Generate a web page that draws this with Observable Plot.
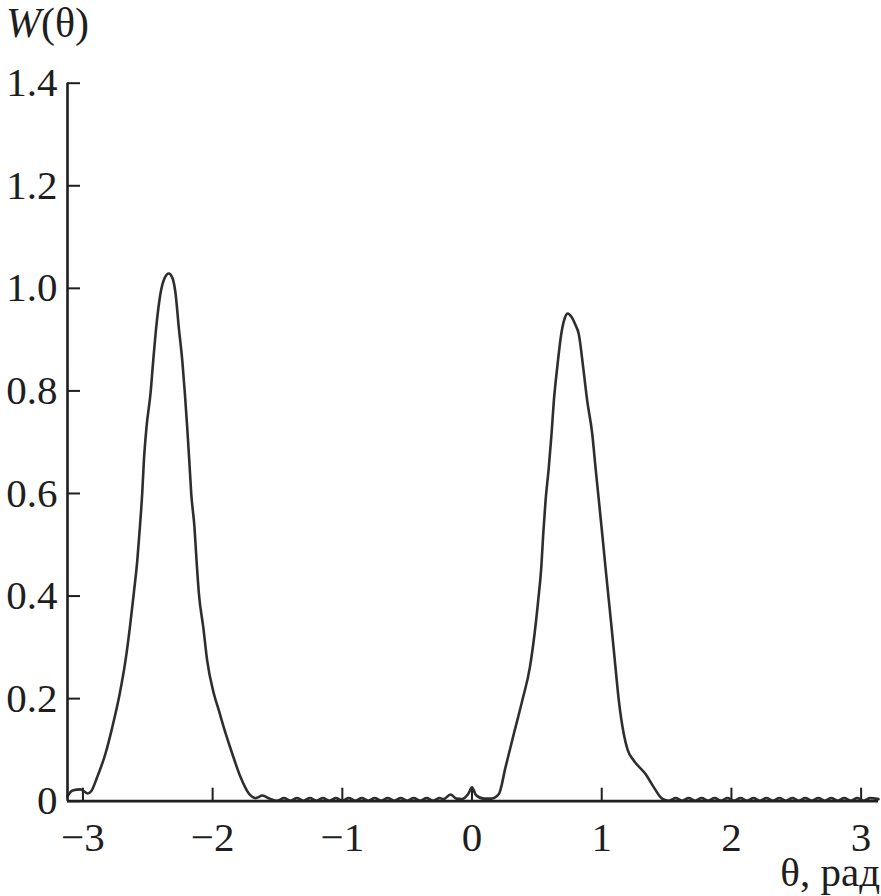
<!DOCTYPE html>
<html>
<head>
<meta charset="utf-8">
<script src="https://cdn.jsdelivr.net/npm/d3@7"></script>
<script src="https://cdn.jsdelivr.net/npm/@observablehq/plot@0.6"></script>
<style>
  html, body { margin: 0; padding: 0; background: #fff; }
</style>
</head>
<body>
<div id="chart"></div>
<script>
// θ values (rad)
const theta = [
  -3.119, -3.08, -3.02, -2.99, -2.965, -2.935, -2.89, -2.826, -2.774, -2.716,
  -2.672, -2.638, -2.608, -2.581, -2.561, -2.543, -2.530, -2.510, -2.479, -2.458,
  -2.435, -2.402, -2.370, -2.338, -2.310, -2.286, -2.261, -2.234, -2.214, -2.196,
  -2.180, -2.165, -2.140, -2.124, -2.106, -2.072, -2.042, -1.991, -1.952, -1.914,
  -1.849, -1.785, -1.721, -1.669, -1.615, -1.56,
  -1.50, -1.45, -1.40, -1.35, -1.30, -1.25, -1.20, -1.15, -1.10, -1.05,
  -1.00, -0.95, -0.90, -0.85, -0.80, -0.75, -0.70, -0.65, -0.60, -0.55,
  -0.50, -0.45, -0.40, -0.35, -0.30, -0.25,
  -0.22, -0.166, -0.12, -0.08, -0.03, 0.0, 0.03, 0.09, 0.15, 0.207,
  0.258, 0.322, 0.387, 0.446, 0.482, 0.510, 0.534, 0.549, 0.567, 0.592,
  0.613, 0.631, 0.657, 0.688, 0.715, 0.739, 0.765, 0.795, 0.823, 0.857,
  0.888, 0.927, 0.952, 0.978, 1.004, 1.029, 1.055, 1.081, 1.106, 1.132,
  1.170, 1.200, 1.248, 1.338, 1.402, 1.466,
  1.52, 1.57, 1.62, 1.67, 1.72, 1.77, 1.82, 1.87, 1.92, 1.97,
  2.02, 2.07, 2.12, 2.17, 2.22, 2.27, 2.32, 2.37, 2.42, 2.47,
  2.52, 2.57, 2.62, 2.67, 2.72, 2.77, 2.82, 2.87, 2.92, 2.97,
  3.02, 3.07, 3.134
];
// W(θ) values
const W = [
  0.010, 0.021, 0.023, 0.019, 0.015, 0.020, 0.047, 0.093, 0.144, 0.210,
  0.274, 0.339, 0.405, 0.469, 0.534, 0.600, 0.664, 0.729, 0.795, 0.859,
  0.924, 0.990, 1.020, 1.029, 1.020, 0.990, 0.924, 0.859, 0.795, 0.729,
  0.664, 0.600, 0.534, 0.469, 0.405, 0.339, 0.274, 0.210, 0.177, 0.144,
  0.093, 0.047, 0.015, 0.006, 0.011, 0.005,
  0.001, 0.006, 0.001, 0.006, 0.001, 0.006, 0.001, 0.006, 0.001, 0.006,
  0.001, 0.006, 0.001, 0.006, 0.001, 0.006, 0.001, 0.006, 0.001, 0.006,
  0.001, 0.006, 0.001, 0.006, 0.001, 0.006,
  0.004, 0.013, 0.005, 0.004, 0.014, 0.027, 0.012, 0.005, 0.005, 0.014,
  0.066, 0.131, 0.196, 0.261, 0.326, 0.391, 0.456, 0.521, 0.586, 0.651,
  0.716, 0.781, 0.846, 0.911, 0.942, 0.951, 0.945, 0.930, 0.911, 0.846,
  0.781, 0.716, 0.651, 0.586, 0.521, 0.456, 0.391, 0.326, 0.261, 0.196,
  0.131, 0.100, 0.079, 0.053, 0.027, 0.005,
  0.001, 0.006, 0.001, 0.006, 0.001, 0.006, 0.001, 0.006, 0.001, 0.006,
  0.001, 0.006, 0.001, 0.006, 0.001, 0.006, 0.001, 0.006, 0.001, 0.006,
  0.001, 0.006, 0.001, 0.006, 0.001, 0.006, 0.001, 0.006, 0.001, 0.006,
  0.001, 0.006, 0.004
];

const xTicks = [-3, -2, -1, 0, 1, 2, 3];
const xTickLabels = ["−3", "−2", "−1", "0", "1", "2", "3"];
const yTicks = [0, 0.2, 0.4, 0.6, 0.8, 1.0, 1.2, 1.4];
const yTickLabels = ["0", "0.2", "0.4", "0.6", "0.8", "1.0", "1.2", "1.4"];
const xDomain = [-3.119, 3.134];
const yDomain = [0, 1.4];

const data = theta.map((t, i) => ({t, w: W[i]}));
const serif = "'Liberation Serif', 'DejaVu Serif', serif";

const chart = Plot.plot({
  width: 881,
  height: 896,
  marginLeft: 67,
  marginRight: 3,
  marginTop: 82.7,
  marginBottom: 95.3,
  x: {domain: xDomain},
  y: {domain: yDomain},
  style: {fontFamily: serif, fontSize: "40px", color: "#1e1e1e", background: "#fff"},
  marks: [
    Plot.axisY(yTicks, {
      tickSize: -13, tickPadding: 23, strokeWidth: 2,
      tickFormat: d => yTickLabels[yTicks.indexOf(d)],
      fontSize: 41, label: null
    }),
    Plot.axisX(xTicks, {
      tickSize: -13, tickPadding: 34, strokeWidth: 2,
      tickFormat: d => xTickLabels[xTicks.indexOf(d)],
      fontSize: 41, label: null
    }),
    Plot.line(data, {x: "t", y: "w", stroke: "#2e2e2e", strokeWidth: 2.6, curve: "monotone-x"}),
    Plot.ruleY([yDomain[0]], {stroke: "#1e1e1e", strokeWidth: 2.8}),
    Plot.ruleX([xDomain[0]], {stroke: "#1e1e1e", strokeWidth: 2.6})
  ]
});

const svg = d3.select(chart);
const yLab = svg.append("text")
  .attr("x", 6).attr("y", 37).attr("text-anchor", "start")
  .attr("font-family", serif).attr("font-size", 42).attr("fill", "#1e1e1e");
yLab.append("tspan").attr("font-style", "italic").text("W");
yLab.append("tspan").text("(θ)");
svg.append("text")
  .attr("x", 880).attr("y", 886).attr("text-anchor", "end")
  .attr("font-family", serif).attr("font-size", 41).attr("fill", "#1e1e1e")
  .text("θ, рад");

document.getElementById("chart").appendChild(chart);
</script>
</body>
</html>
